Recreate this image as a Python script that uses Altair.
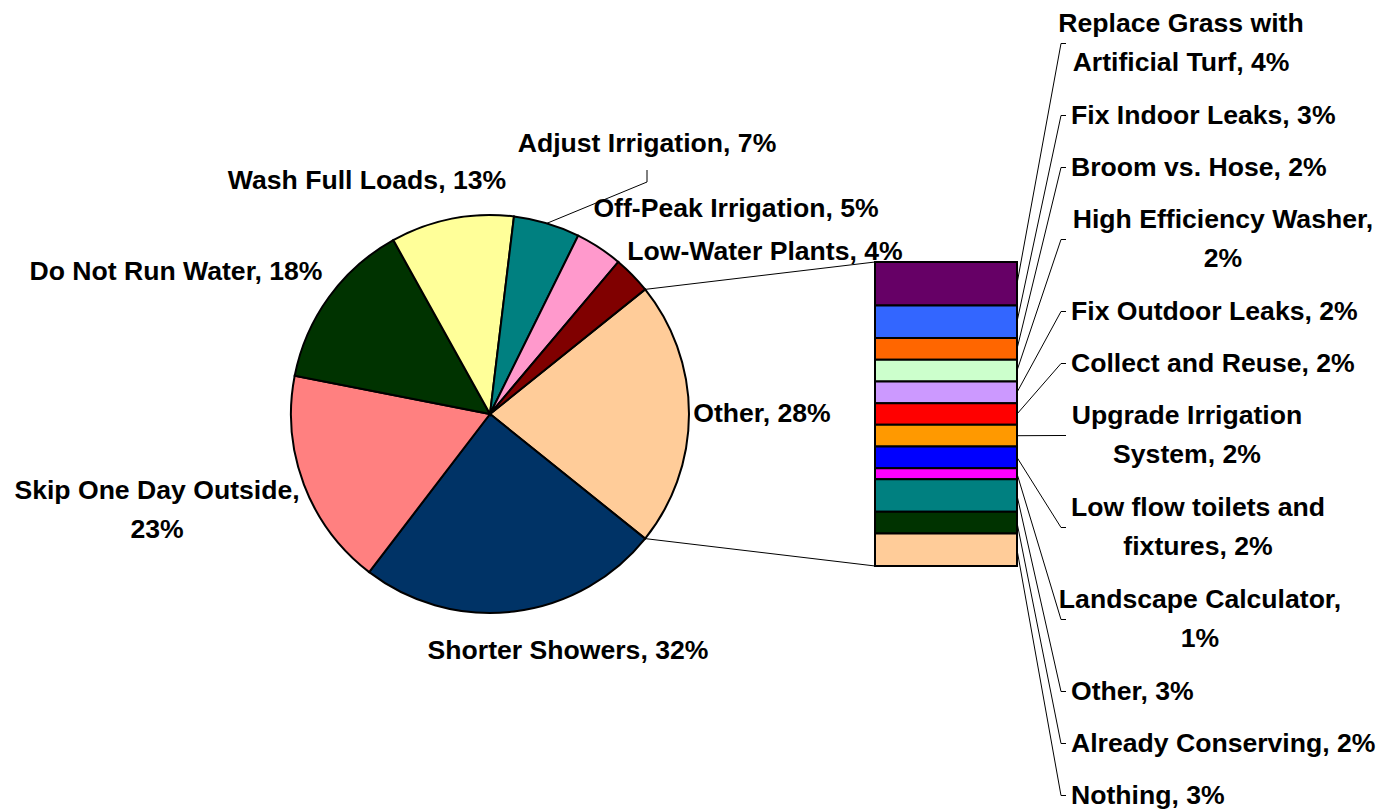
import math
import altair as alt
import pandas as pd

# ---------------- data ----------------
pie_names = ["Other", "Shorter Showers", "Skip One Day Outside", "Do Not Run Water",
             "Wash Full Loads", "Adjust Irrigation", "Off-Peak Irrigation", "Low-Water Plants"]
pie_values = [28, 32, 23, 18, 13, 7, 5, 4]
pie_colors = ["#FFCC99", "#003366", "#FF8080", "#003300", "#FFFF99", "#008080", "#FF99CC", "#800000"]

bar_names = ["Replace Grass with Artificial Turf", "Fix Indoor Leaks", "Broom vs. Hose",
             "High Efficiency Washer", "Fix Outdoor Leaks", "Collect and Reuse",
             "Upgrade Irrigation System", "Low flow toilets and fixtures",
             "Landscape Calculator", "Other", "Already Conserving", "Nothing"]
bar_values = [4, 3, 2, 2, 2, 2, 2, 2, 1, 3, 2, 3]
bar_colors = ["#660066", "#3366FF", "#FF6600", "#CCFFCC", "#CC99FF", "#FF0000",
              "#FF9900", "#0000FF", "#FF00FF", "#008080", "#003300", "#FFCC99"]

# ---------------- layout (page pixel coords) ----------------
M = 8  # page margin
W, H = 1370, 801
FONT = "Liberation Sans"
FS = 26.6
LH = 39

CX, CY, R = 490, 414, 199
BAR_X0, BAR_X1, BAR_Y0, BAR_Y1 = 875, 1017, 262, 566

pie_label_pos = {  # centre of label text block
    "Other": (762, 414), "Shorter Showers": (568, 651), "Skip One Day Outside": (157, 510),
    "Do Not Run Water": (176, 272), "Wash Full Loads": (367, 181),
    "Adjust Irrigation": (647, 144), "Off-Peak Irrigation": (736, 209),
    "Low-Water Plants": (765, 252),
}
pie_breaks = {"Skip One Day Outside": "Skip One Day Outside,"}
bar_breaks = {0: "Replace Grass with", 3: "High Efficiency Washer,", 6: "Upgrade Irrigation",
              7: "Low flow toilets and", 8: "Landscape Calculator,"}
bar_centres = {0: 1181, 3: 1223, 6: 1187, 7: 1198, 8: 1200}
LABEL_X = 1071
TICK_X0, TICK_X1 = 1061, 1066
FIRST_Y = 43.5
HALF1, HALF2 = 26, 46


def px(v):
    return v - M


def wrap(text, prefix):
    return text.replace(prefix + " ", prefix + "\n", 1)


def block_y(y, text):
    # Vega puts the first line at y; shift so the block is centred on y
    n = text.count("\n") + 1
    return y - (n - 1) * LH / 2


# ---------------- pie ----------------
total = sum(pie_values)
start = math.pi / 2 - math.pi * pie_values[0] / total  # "Other" centred at 3 o'clock


def rim(angle, r=R):
    return CX + r * math.sin(angle), CY - r * math.cos(angle)


pie_df = pd.DataFrame({"name": pie_names, "value": pie_values, "color": pie_colors,
                       "idx": list(range(len(pie_names)))})

pie = alt.Chart(pie_df).mark_arc(radius=R, stroke="black", strokeWidth=2).encode(
    theta=alt.Theta("value:Q", stack=True,
                    scale=alt.Scale(range=[start, start + 2 * math.pi])),
    color=alt.Color("color:N", scale=None),
    order=alt.Order("idx:Q"),
    x=alt.value(px(CX)), y=alt.value(px(CY)),
)

# ---------------- bar ----------------
bar_total = sum(bar_values)
bar_df = pd.DataFrame({"name": bar_names, "value": bar_values, "color": bar_colors,
                       "idx": list(range(len(bar_names)))})
bar = alt.Chart(bar_df).transform_window(
    cum="sum(value)", sort=[alt.SortField("idx")], frame=[None, 0]
).transform_calculate(
    start="datum.cum - datum.value"
).mark_bar(stroke="black", strokeWidth=2).encode(
    y=alt.Y("start:Q", axis=None,
            scale=alt.Scale(domain=[0, bar_total], range=[px(BAR_Y0), px(BAR_Y1)],
                            nice=False, zero=False)),
    y2="cum:Q",
    x=alt.value(px(BAR_X0)), x2=alt.value(px(BAR_X1)),
    color=alt.Color("color:N", scale=None),
)

# ---------------- texts ----------------
pie_text_rows = []
for n, v in zip(pie_names, pie_values):
    t = f"{n}, {v}%"
    if n in pie_breaks:
        t = wrap(t, pie_breaks[n])
    x, y = pie_label_pos[n]
    pie_text_rows.append({"text": t, "x": px(x), "y": px(block_y(y, t))})

bar_left_rows, bar_centre_rows = [], []
label_ys = []
y = FIRST_Y
prev_half = None
for i, (n, v) in enumerate(zip(bar_names, bar_values)):
    half = HALF2 if i in bar_breaks else HALF1
    if prev_half is not None:
        y = y + prev_half + half
    prev_half = half
    label_ys.append(y)
    t = f"{n}, {v}%"
    if i in bar_breaks:
        t = wrap(t, bar_breaks[i])
        bar_centre_rows.append({"text": t, "x": px(bar_centres[i]), "y": px(block_y(y, t))})
    else:
        bar_left_rows.append({"text": t, "x": px(LABEL_X), "y": px(y)})


def text_layer(rows, align):
    return alt.Chart(pd.DataFrame(rows)).mark_text(
        font=FONT, fontWeight="bold", fontSize=FS, lineHeight=LH, align=align,
        baseline="middle", lineBreak="\n", color="black",
    ).encode(
        x=alt.X("x:Q", scale=None, axis=None),
        y=alt.Y("y:Q", scale=None, axis=None),
        text="text:N",
    )


# ---------------- lines ----------------
lines = []
a0 = start
a1 = start + 2 * math.pi * pie_values[0] / total
p0, p1 = rim(a0), rim(a1)
lines.append((p0[0], p0[1], BAR_X0, BAR_Y0))
lines.append((p1[0], p1[1], BAR_X0, BAR_Y1))
cum = sum(pie_values[:5])
amid = start + 2 * math.pi * (cum + pie_values[5] / 2) / total
pa = rim(amid)
lines.append((pa[0], pa[1], 647, 182))
lines.append((647, 182, 647, 170))
unit = (BAR_Y1 - BAR_Y0) / bar_total
cum = 0
for i, v in enumerate(bar_values):
    mid = BAR_Y0 + unit * (cum + v / 2)
    cum += v
    ly = label_ys[i]
    lines.append((BAR_X1, mid, TICK_X0, ly))
    lines.append((TICK_X0, ly, TICK_X1, ly))

line_df = pd.DataFrame([{"x": px(a), "y": px(b), "x2": px(c), "y2": px(d)} for a, b, c, d in lines])
rules = alt.Chart(line_df).mark_rule(color="black", strokeWidth=1).encode(
    x=alt.X("x:Q", scale=None, axis=None), y=alt.Y("y:Q", scale=None, axis=None),
    x2="x2:Q", y2="y2:Q",
)

chart = alt.layer(
    rules, pie, bar,
    text_layer(pie_text_rows, "center"),
    text_layer(bar_left_rows, "left"),
    text_layer(bar_centre_rows, "center"),
).resolve_scale(
    x="independent", y="independent", theta="independent", color="independent"
).properties(
    width=W, height=H, autosize=alt.AutoSizeParams(type="none"), padding=0,
    background="white",
).configure_view(stroke=None)

chart.save("out.html", embed_options={"renderer": "svg", "actions": False})
